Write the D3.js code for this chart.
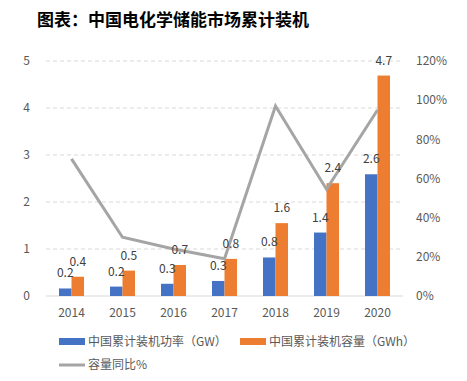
<!DOCTYPE html>
<html>
<head>
<meta charset="utf-8">
<script src="https://cdn.jsdelivr.net/npm/d3@7"></script>
<style>
  body { margin: 0; background: #fff; }
  svg { display: block; font-family: "Noto Sans CJK SC", "Open Sans", sans-serif; }
</style>
</head>
<body>
<svg id="chart" width="467" height="381"></svg>
<script>
const years = ['2014', '2015', '2016', '2017', '2018', '2019', '2020'];
const power = [0.16, 0.2, 0.26, 0.32, 0.82, 1.35, 2.59];
const capacity = [0.41, 0.54, 0.66, 0.79, 1.55, 2.4, 4.69];
const growth = [70, 30, 24, 19, 97, 54.5, 95];
const powerLabels = ['0.2', '0.2', '0.3', '0.3', '0.8', '1.4', '2.6'];
const capLabels = ['0.4', '0.5', '0.7', '0.8', '1.6', '2.4', '4.7'];
const leftTicks = [0, 1, 2, 3, 4, 5];
const rightTicks = [0, 20, 40, 60, 80, 100, 120];

const blue = '#4472C4';
const orange = '#ED7D31';
const grey = '#A5A5A5';
const textColor = '#595959';

const svg = d3.select('#chart');

svg.append('text').attr('x', 37).attr('y', 26)
    .style('font-size', '17px').style('font-weight', 'bold').attr('fill', '#000')
    .text('图表：中国电化学储能市场累计装机');

const x = d3.scaleBand().domain(years).range([46, 403]);
const y = d3.scaleLinear().domain([0, 5]).range([296, 61]);
const y2 = d3.scaleLinear().domain([0, 120]).range([296, 61]);
const barW = 12.5;

// grid
svg.append('g').selectAll('line').data(leftTicks.slice(1)).enter().append('line')
    .attr('x1', 46).attr('x2', 403)
    .attr('y1', d => y(d)).attr('y2', d => y(d))
    .attr('stroke', '#d9d9d9').attr('stroke-dasharray', '4,3');

svg.append('line').attr('x1', 46).attr('x2', 403).attr('y1', y(0)).attr('y2', y(0))
    .attr('stroke', '#d9d9d9').attr('stroke-width', 1);

// left axis
svg.append('g').selectAll('text').data(leftTicks).enter().append('text')
    .attr('x', 30).attr('y', d => y(d)).attr('dy', '0.35em').attr('text-anchor', 'end')
    .style('font-size', '12px').attr('fill', textColor).text(d => d);

// right axis
svg.append('g').selectAll('text').data(rightTicks).enter().append('text')
    .attr('x', 416).attr('y', d => y2(d)).attr('dy', '0.35em')
    .style('font-size', '12px').attr('fill', textColor).text(d => d + '%');

// x labels
svg.append('g').selectAll('text').data(years).enter().append('text')
    .attr('x', d => x(d) + x.bandwidth() / 2).attr('y', 313).attr('dy', '0.35em')
    .attr('text-anchor', 'middle').style('font-size', '12px').attr('fill', textColor).text(d => d);

// bars
const cx = i => x(years[i]) + x.bandwidth() / 2;

svg.append('g').selectAll('rect').data(power).enter().append('rect')
    .attr('x', (d, i) => cx(i) - barW).attr('width', barW)
    .attr('y', d => y(d)).attr('height', d => y(0) - y(d)).attr('fill', blue);

svg.append('g').selectAll('rect').data(capacity).enter().append('rect')
    .attr('x', (d, i) => cx(i)).attr('width', barW)
    .attr('y', d => y(d)).attr('height', d => y(0) - y(d)).attr('fill', orange);

// line
const line = d3.line().x((d, i) => cx(i)).y(d => y2(d));
svg.append('path').datum(growth).attr('d', line)
    .attr('fill', 'none').attr('stroke', grey).attr('stroke-width', 3);

// data labels
svg.append('g').selectAll('text').data(power).enter().append('text')
    .attr('x', (d, i) => cx(i) - barW / 2).attr('y', d => y(d) - 11)
    .attr('text-anchor', 'middle').style('font-size', '12px').attr('fill', '#404040')
    .text((d, i) => powerLabels[i]);

svg.append('g').selectAll('text').data(capacity).enter().append('text')
    .attr('x', (d, i) => cx(i) + barW / 2).attr('y', d => y(d) - 11)
    .attr('text-anchor', 'middle').style('font-size', '12px').attr('fill', '#404040')
    .text((d, i) => capLabels[i]);

// legend
const lg = svg.append('g').style('font-size', '12px').attr('fill', textColor);
lg.append('rect').attr('x', 59).attr('y', 338).attr('width', 26).attr('height', 7).attr('fill', blue);
lg.append('text').attr('x', 88).attr('y', 341.5).attr('dy', '0.35em').text('中国累计装机功率（GW）');
lg.append('rect').attr('x', 240).attr('y', 338).attr('width', 26).attr('height', 7).attr('fill', orange);
lg.append('text').attr('x', 269).attr('y', 341.5).attr('dy', '0.35em').text('中国累计装机容量（GWh）');
lg.append('line').attr('x1', 59).attr('x2', 85).attr('y1', 365).attr('y2', 365)
    .attr('stroke', grey).attr('stroke-width', 3);
lg.append('text').attr('x', 88).attr('y', 365).attr('dy', '0.35em').text('容量同比%');
</script>
</body>
</html>
